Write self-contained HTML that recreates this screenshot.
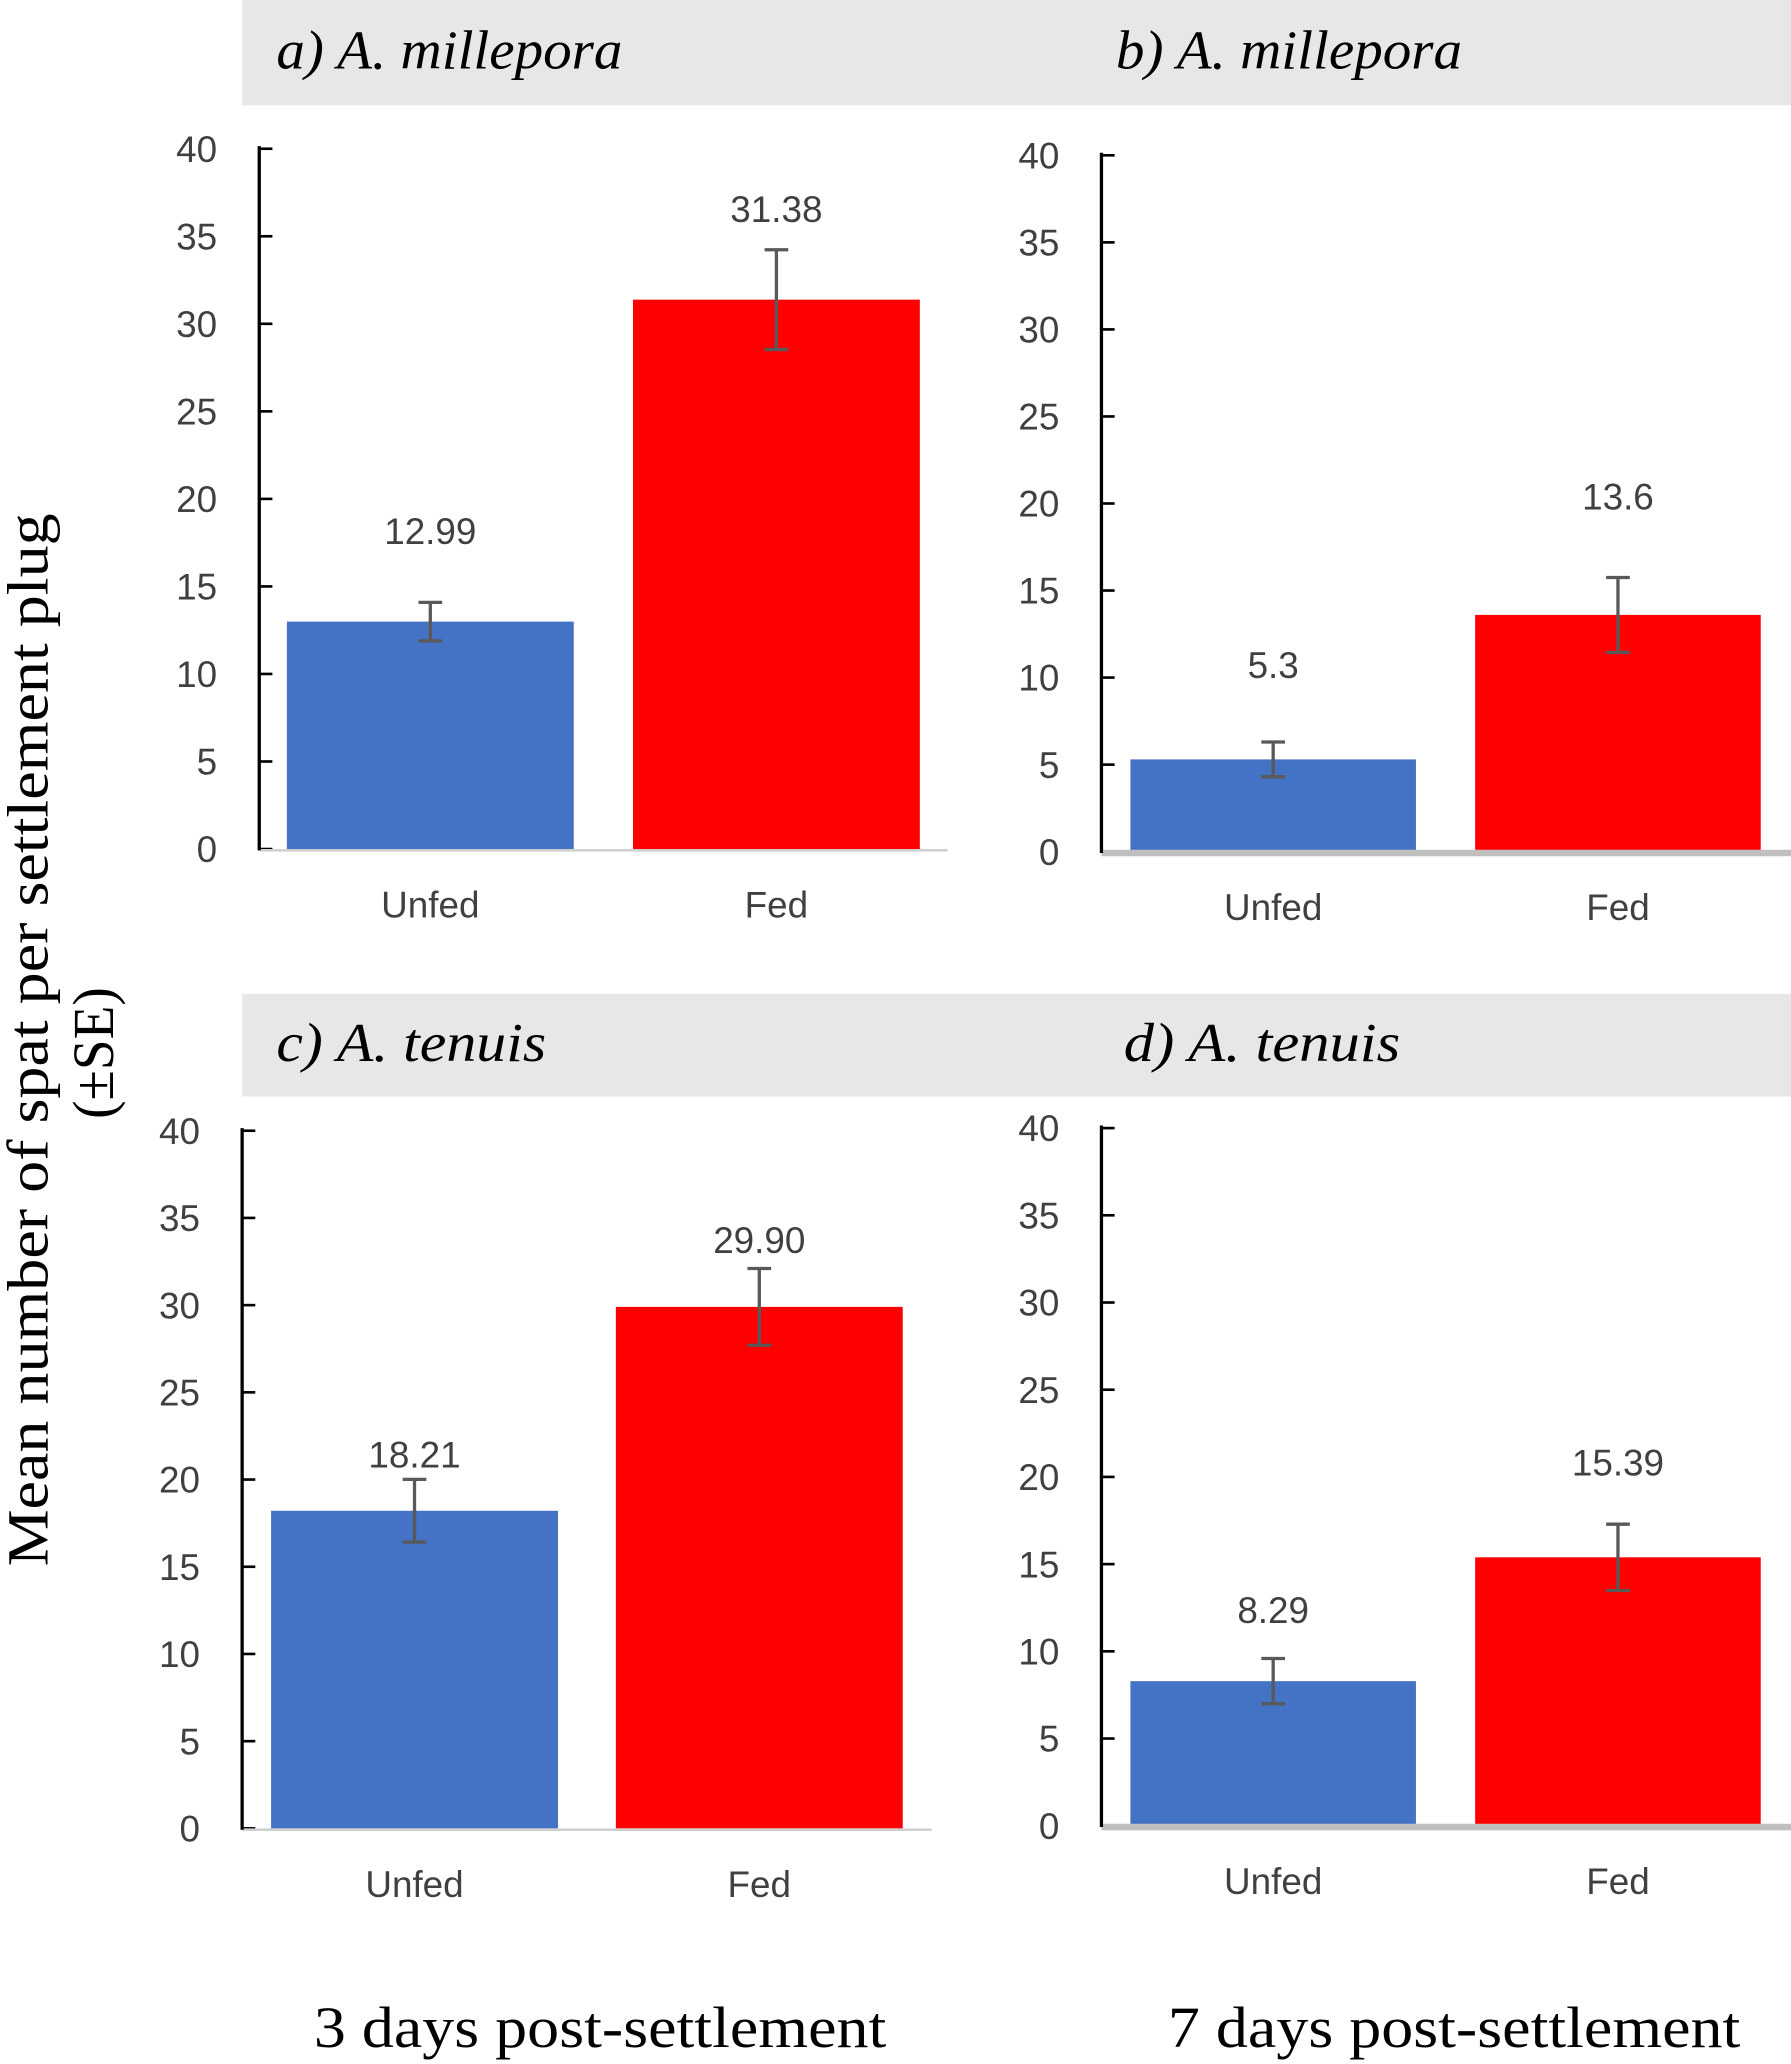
<!DOCTYPE html>
<html><head><meta charset="utf-8"><style>
html,body{margin:0;padding:0;background:#fff}
svg{display:block}
.tk{font-family:"Liberation Sans",sans-serif;font-size:28px;fill:#404040}
.hd{font-family:"Liberation Serif",serif;font-style:italic;font-size:42px;fill:#000}
.ft{font-family:"Liberation Serif",serif;font-size:44px;fill:#000}
</style></head><body>
<svg id="chart" width="1791" height="2064" viewBox="0 0 1361 1568" preserveAspectRatio="none" xmlns="http://www.w3.org/2000/svg">
<rect x="184" y="0" width="1177" height="80" fill="#e7e7e7"/>
<rect x="184" y="755" width="1177" height="78" fill="#e7e7e7"/>
<text class="hd" x="210" y="52" textLength="263" lengthAdjust="spacingAndGlyphs">a) A. millepora</text>
<text class="hd" x="848" y="52" textLength="263" lengthAdjust="spacingAndGlyphs">b) A. millepora</text>
<text class="hd" x="210" y="806" textLength="205" lengthAdjust="spacingAndGlyphs">c) A. tenuis</text>
<text class="hd" x="854" y="806" textLength="210" lengthAdjust="spacingAndGlyphs">d) A. tenuis</text>
<text class="ft" transform="translate(36,790) rotate(-90)" text-anchor="middle" textLength="800" lengthAdjust="spacingAndGlyphs">Mean number of spat per settlement plug</text>
<text class="ft" transform="translate(86,800) rotate(-90)" text-anchor="middle" textLength="100" lengthAdjust="spacingAndGlyphs">(±SE)</text>
<text class="ft" x="456" y="1555" text-anchor="middle" textLength="435" lengthAdjust="spacingAndGlyphs">3 days post-settlement</text>
<text class="ft" x="1105" y="1555" text-anchor="middle" textLength="435" lengthAdjust="spacingAndGlyphs">7 days post-settlement</text>
<g id="plots"></g>
</svg>
<script>
const categories = ["Unfed", "Fed"];
const yTicks = [0, 5, 10, 15, 20, 25, 30, 35, 40];
const valuesA = [12.99, 31.38];
const errorsA = [1.1, 2.85];
const labelsA = ["12.99", "31.38"];
const valuesB = [5.3, 13.6];
const errorsB = [1.0, 2.15];
const labelsB = ["5.3", "13.6"];
const valuesC = [18.21, 29.9];
const errorsC = [1.8, 2.2];
const labelsC = ["18.21", "29.90"];
const valuesD = [8.29, 15.39];
const errorsD = [1.3, 1.9];
const labelsD = ["8.29", "15.39"];

const NS = "http://www.w3.org/2000/svg";
const root = document.getElementById('plots');
function mk(tag, attrs, parent) {
  const e = document.createElementNS(NS, tag);
  for (const k in attrs) e.setAttribute(k, attrs[k]);
  parent.appendChild(e);
  return e;
}
const colors = ["#4472c4", "#ff0000"];
const panels = [
  {id:"a", ax:197, y0:645, y40:113, bx:[218,481], bw:218, xEnd:720, thick:false, v:valuesA, e:errorsA, l:labelsA, labX:165, off:[69,69]},
  {id:"b", ax:837, y0:647, y40:118, bx:[859,1121], bw:217, xEnd:1361, thick:true, v:valuesB, e:errorsB, l:labelsB, labX:805, off:[72,90]},
  {id:"c", ax:184, y0:1389, y40:859, bx:[206,468], bw:218, xEnd:708, thick:false, v:valuesC, e:errorsC, l:labelsC, labX:152, off:[43,51]},
  {id:"d", ax:837, y0:1387, y40:857, bx:[859,1121], bw:217, xEnd:1361, thick:true, v:valuesD, e:errorsD, l:labelsD, labX:805, off:[54,72]}
];
panels.forEach(p => {
  const g = mk('g', {}, root);
  
  
  const y = v => p.y0 - (v / 40) * (p.y0 - p.y40);
  yTicks.forEach(t => {
    const tl = mk('line', {x1:p.ax, x2:p.ax+10, y1:y(t), y2:y(t), stroke:'#000', 'stroke-width':2}, g);
    
    
    const tx = mk('text', {x:p.labX, y:y(t)+10, 'text-anchor':'end', class:'tk'}, g);
    tx.textContent = t;
    
    
  });
  categories.forEach((c, i) => {
    const top = y(p.v[i]);
    const r = mk('rect', {x:p.bx[i], y:top, width:p.bw, height:p.y0-top, fill:colors[i]}, g);
    
    
    const cx = p.bx[i] + p.bw/2;
    const hi = y(p.v[i] + p.e[i]), lo = y(p.v[i] - p.e[i]);
    const eb = mk('path', {d:`M${cx} ${hi}V${lo}M${cx-9} ${hi}H${cx+9}M${cx-9} ${lo}H${cx+9}`, stroke:'#595959', 'stroke-width':2.5, fill:'none'}, g);
    
    
    const vl = mk('text', {x:cx, y:top-p.off[i]+10, 'text-anchor':'middle', class:'tk', fill:'#333'}, g);
    vl.textContent = p.l[i];
    
    
    const cl = mk('text', {x:cx, y:p.y0+52, 'text-anchor':'middle', class:'tk'}, g);
    cl.textContent = c;
    
    
  });
  const xa = mk('line', {x1:p.ax, x2:p.xEnd, y1:p.y0+1, y2:p.y0+1, stroke:p.thick?'#bfbfbf':'#d0d0d0', 'stroke-width':p.thick?5:2}, g);
  
  
  const ya = mk('line', {x1:p.ax, x2:p.ax, y1:p.y40-2, y2:p.y0+1, stroke:'#000', 'stroke-width':2.5}, g);
  
  
});
</script>
</body></html>
